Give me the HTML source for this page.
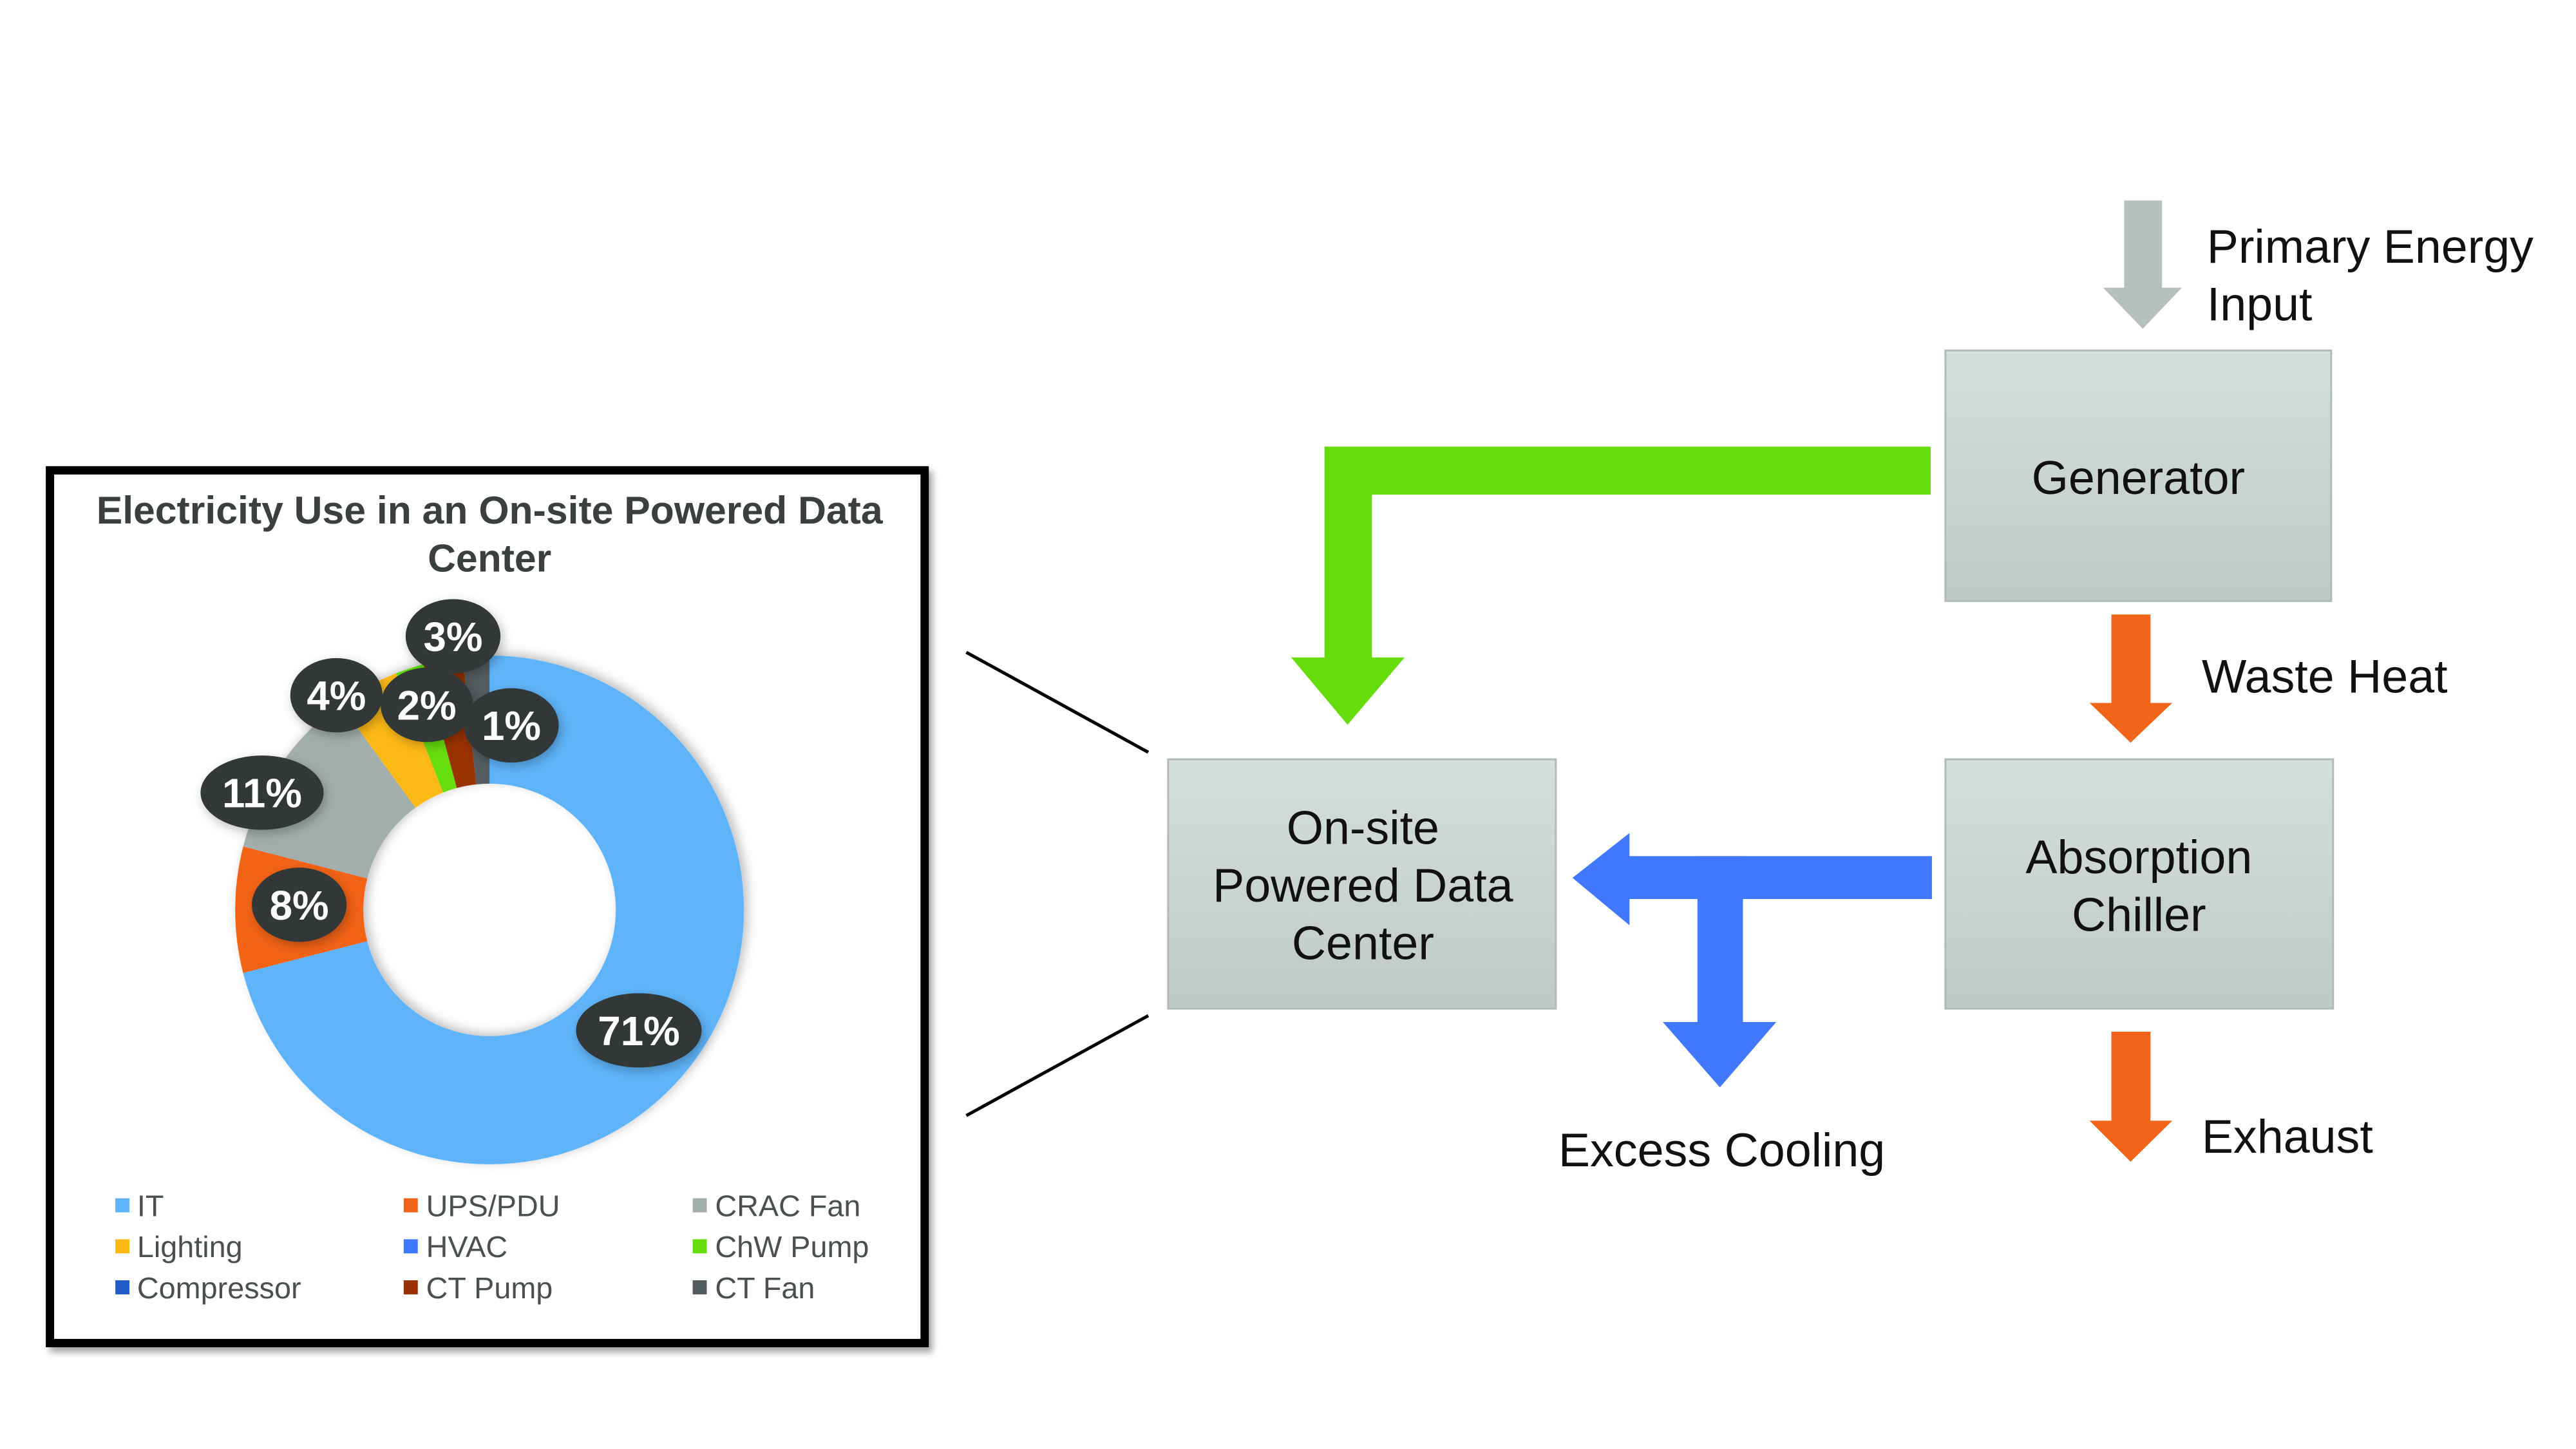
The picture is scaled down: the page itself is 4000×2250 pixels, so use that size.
<!DOCTYPE html>
<html><head><meta charset="utf-8"><style>
html,body{margin:0;padding:0;background:#fff}
svg{display:block}
</style></head><body>
<svg width="4000" height="2250" viewBox="0 0 4000 2250" xmlns="http://www.w3.org/2000/svg" font-family="Liberation Sans, sans-serif">
<defs>
<linearGradient id="bx" x1="0" y1="0" x2="0" y2="1"><stop offset="0" stop-color="#D5DFDD"/><stop offset="1" stop-color="#BFCAC8"/></linearGradient>
<filter id="sh" x="-10%" y="-10%" width="130%" height="130%"><feDropShadow dx="6" dy="8" stdDeviation="5" flood-color="#000" flood-opacity="0.35"/></filter>
<filter id="sh2" x="-20%" y="-20%" width="140%" height="140%"><feDropShadow dx="4" dy="6" stdDeviation="8" flood-color="#000" flood-opacity="0.25"/></filter>
</defs>
<g transform="scale(0.995)">
<!-- chart frame -->
<rect x="78" y="734" width="1365" height="1362" fill="#fff" stroke="#000" stroke-width="13" filter="url(#sh)"/>
<text x="764" y="817" text-anchor="middle" font-size="61" font-weight="bold" fill="#3a3f3f">Electricity Use in an On-site Powered Data</text>
<text x="764" y="892" text-anchor="middle" font-size="61" font-weight="bold" fill="#3a3f3f">Center</text>
<!-- donut -->
<g transform="rotate(-90 764 1420)" fill="none" stroke-width="200" filter="url(#sh2)">
<circle cx="764" cy="1420" r="297" stroke="#5FB4F9" stroke-dasharray="1325 1866.1" stroke-dashoffset="0"/>
<circle cx="764" cy="1420" r="297" stroke="#F26419" stroke-dasharray="149.3 1866.1" stroke-dashoffset="-1325"/>
<circle cx="764" cy="1420" r="297" stroke="#A2AFAD" stroke-dasharray="205.3 1866.1" stroke-dashoffset="-1474.3"/>
<circle cx="764" cy="1420" r="297" stroke="#FDB913" stroke-dasharray="74.6 1866.1" stroke-dashoffset="-1679.6"/>
<circle cx="764" cy="1420" r="297" stroke="#66DD0A" stroke-dasharray="33.6 1866.1" stroke-dashoffset="-1754.2"/>
<circle cx="764" cy="1420" r="297" stroke="#9A3000" stroke-dasharray="46.6 1866.1" stroke-dashoffset="-1787.8"/>
<circle cx="764" cy="1420" r="297" stroke="#525C5E" stroke-dasharray="31.7 1866.1" stroke-dashoffset="-1834.4"/>
</g>
<!-- bubbles -->
<g filter="url(#sh2)" fill="#313738">
<ellipse cx="707" cy="993" rx="74" ry="58"/>
<ellipse cx="525" cy="1085" rx="72" ry="58"/>
<ellipse cx="666" cy="1100" rx="72" ry="58"/>
<ellipse cx="798" cy="1132" rx="74" ry="58"/>
<ellipse cx="409" cy="1237" rx="96" ry="58"/>
<ellipse cx="467" cy="1412" rx="74" ry="58"/>
<ellipse cx="997" cy="1608" rx="98" ry="58"/>
</g>
<g fill="#fff" font-weight="bold" font-size="64" text-anchor="middle">
<text x="707" y="1016">3%</text>
<text x="525" y="1108">4%</text>
<text x="666" y="1123">2%</text>
<text x="798" y="1155">1%</text>
<text x="409" y="1260">11%</text>
<text x="467" y="1435">8%</text>
<text x="997" y="1631">71%</text>
</g>
<!-- legend -->
<g font-size="47" fill="#4a4f50">
<rect x="180" y="1870" width="22" height="22" fill="#5FB4F9"/><text x="214" y="1898">IT</text>
<rect x="630" y="1870" width="22" height="22" fill="#F26419"/><text x="665" y="1898">UPS/PDU</text>
<rect x="1081" y="1870" width="22" height="22" fill="#A2AFAD"/><text x="1116" y="1898">CRAC Fan</text>
<rect x="180" y="1934" width="22" height="22" fill="#FDB913"/><text x="214" y="1962">Lighting</text>
<rect x="630" y="1934" width="22" height="22" fill="#4079FF"/><text x="665" y="1962">HVAC</text>
<rect x="1081" y="1934" width="22" height="22" fill="#66DD0A"/><text x="1116" y="1962">ChW Pump</text>
<rect x="180" y="1998" width="22" height="22" fill="#1E5BC6"/><text x="214" y="2026">Compressor</text>
<rect x="630" y="1998" width="22" height="22" fill="#9A3000"/><text x="665" y="2026">CT Pump</text>
<rect x="1081" y="1998" width="22" height="22" fill="#525C5E"/><text x="1116" y="2026">CT Fan</text>
</g>
<!-- zoom lines -->
<line x1="1508" y1="1018" x2="1792" y2="1174" stroke="#000" stroke-width="5"/>
<line x1="1508" y1="1741" x2="1792" y2="1585" stroke="#000" stroke-width="5"/>
<!-- boxes -->
<rect x="1823" y="1185" width="605" height="389" fill="url(#bx)" stroke="#AEBBB9" stroke-width="3"/>
<rect x="3036" y="547" width="602" height="391" fill="url(#bx)" stroke="#AEBBB9" stroke-width="3"/>
<rect x="3036" y="1185" width="605" height="389" fill="url(#bx)" stroke="#AEBBB9" stroke-width="3"/>
<g font-size="74" fill="#111" text-anchor="middle">
<text x="2127" y="1317">On-site</text>
<text x="2127" y="1407">Powered Data</text>
<text x="2127" y="1497">Center</text>
<text x="3337" y="771">Generator</text>
<text x="3338" y="1363">Absorption</text>
<text x="3338" y="1453">Chiller</text>
</g>
<!-- primary energy arrow -->
<polygon points="3315,313 3374,313 3374,449 3405,449 3344,513 3282,449 3315,449" fill="#B5C0BF"/>
<!-- green arrow -->
<polygon points="3013,697 3013,772 2141,772 2141,1026 2192,1026 2103,1131 2015,1026 2067,1026 2067,697" fill="#66DD0A"/>
<!-- waste heat -->
<polygon points="3295,959 3356,959 3356,1097 3390,1097 3325,1159 3261,1097 3295,1097" fill="#F26419"/>
<!-- exhaust -->
<polygon points="3295,1610 3356,1610 3356,1749 3390,1749 3325,1813 3261,1749 3295,1749" fill="#F26419"/>
<!-- blue arrows -->
<polygon points="3015,1336 3015,1403 2543,1403 2543,1444 2454,1370 2543,1300 2543,1336" fill="#4079FF"/>
<polygon points="2649,1336 2720,1336 2720,1595 2772,1595 2684,1697 2595,1595 2649,1595" fill="#4079FF"/>
<g font-size="74" fill="#111">
<text x="3444" y="410">Primary Energy</text>
<text x="3444" y="500">Input</text>
<text x="3436" y="1081">Waste Heat</text>
<text x="3436" y="1799">Exhaust</text>
<text x="2687" y="1820" text-anchor="middle">Excess Cooling</text>
</g>
</g>
</svg>
</body></html>
